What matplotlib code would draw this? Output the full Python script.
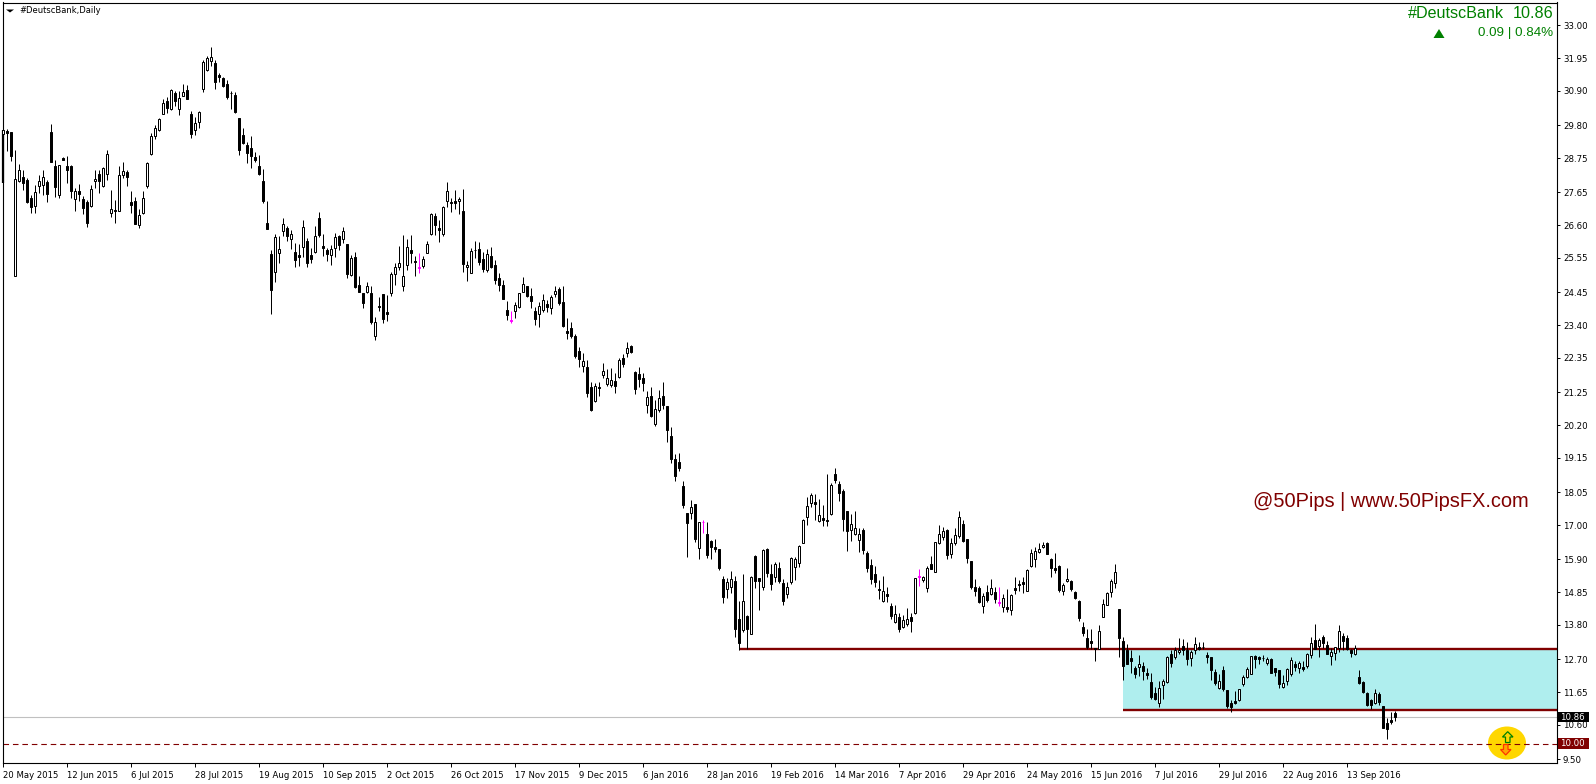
import matplotlib
matplotlib.use('Agg')
import matplotlib.pyplot as plt
from matplotlib.patches import Ellipse, Polygon, Rectangle
from matplotlib.transforms import Affine2D
import numpy as np

opens = [
29.53,29.62,29.58,24.97,28.03,28.14,28.05,27.46,27.23,27.87,
27.90,27.97,29.58,28.50,27.58,28.74,28.50,28.50,27.45,27.68,
27.44,27.33,27.23,28.01,28.23,27.87,28.23,27.00,27.08,27.07,
28.22,28.29,27.34,27.36,26.62,26.98,27.87,28.89,29.45,29.64,
30.17,30.58,30.31,30.82,30.33,30.75,30.92,30.16,29.66,29.89,
30.97,31.58,31.87,31.79,31.41,31.30,31.12,30.84,30.77,30.02,
29.48,29.17,29.07,28.78,28.50,28.00,26.67,25.68,25.11,25.72,
26.42,26.50,26.17,25.73,25.63,25.89,26.08,25.63,25.75,26.82,
25.92,25.81,25.63,25.86,26.24,26.15,25.99,25.00,25.57,24.67,
24.42,24.47,24.42,23.06,24.01,24.39,23.81,24.44,25.05,25.26,
24.66,25.34,25.81,25.45,25.25,25.30,25.72,26.33,26.89,26.50,
26.33,27.39,27.35,27.36,27.36,27.05,25.25,25.08,25.82,25.83,
25.52,25.18,25.61,25.33,24.90,24.69,23.89,23.55,23.84,23.99,
24.47,24.64,24.32,23.85,23.75,23.89,24.07,23.94,24.41,24.55,
24.13,23.21,23.30,23.05,22.57,22.10,22.06,21.42,20.98,21.42,
21.81,21.53,21.49,21.61,21.75,22.34,22.50,22.72,21.90,21.82,
21.71,20.83,21.12,20.25,20.69,21.13,20.81,19.85,19.11,19.02,
18.25,17.37,17.39,17.67,16.27,17.11,16.70,16.49,16.30,16.23,
15.27,14.96,15.02,15.20,13.98,13.63,14.09,13.52,16.00,15.29,
15.03,16.22,15.42,15.34,15.61,15.14,14.80,15.18,15.67,15.79,
16.43,17.27,17.72,17.74,17.14,17.21,17.16,17.36,18.63,18.31,
18.08,17.45,16.85,16.72,16.53,16.83,16.10,15.71,15.42,14.95,
14.56,14.78,14.41,13.91,14.04,13.72,13.84,14.04,14.19,15.37,
15.23,14.97,15.74,15.51,16.43,16.63,16.83,16.08,16.43,16.65,
17.02,16.54,15.84,15.00,14.97,14.42,14.84,14.80,14.87,14.52,
14.39,14.38,14.29,14.97,15.11,15.16,14.90,15.70,15.92,16.12,
16.29,16.42,15.90,15.61,15.68,14.90,15.20,15.20,14.84,14.56,
13.72,13.37,13.29,13.05,13.04,14.07,14.44,14.87,15.15,14.30,
13.28,13.00,12.74,12.42,12.46,12.49,12.26,11.97,11.61,11.31,
11.88,11.98,12.87,12.78,12.92,13.12,13.00,12.75,13.00,13.10,
13.10,12.83,12.76,12.28,11.79,12.35,11.71,11.29,11.35,11.40,
11.91,12.12,12.24,12.80,12.77,12.75,12.58,12.71,12.41,12.36,
11.81,12.01,12.24,12.54,12.42,12.45,12.50,12.84,13.31,13.14,
13.40,13.15,12.82,12.91,13.05,13.44,13.38,13.00,12.87,12.12,
11.97,11.62,11.40,11.31,11.59,11.19,10.65,10.76,10.97]

closes = [
29.64,29.56,28.83,28.07,28.36,27.96,27.34,27.19,27.65,28.00,
28.13,27.60,28.62,27.83,28.52,28.70,28.38,27.71,27.68,27.61,
27.16,26.68,27.75,28.07,28.03,28.43,28.87,27.11,27.04,28.20,
28.32,28.13,27.26,26.65,26.92,27.46,28.59,29.45,29.70,30.00,
30.50,30.36,30.92,30.59,30.66,30.85,30.64,29.53,29.86,30.21,
31.81,31.94,31.97,31.20,31.36,31.07,30.72,30.82,30.22,29.02,
29.23,28.92,28.82,28.69,28.24,27.37,26.48,24.52,26.21,25.83,
26.63,26.26,26.31,25.47,25.59,26.53,25.40,25.53,26.24,26.30,
25.88,25.69,25.83,26.21,25.98,26.40,25.05,25.54,24.63,24.47,
24.12,24.66,23.50,23.49,23.99,23.61,23.77,25.03,25.27,25.40,
24.96,25.89,25.72,25.43,25.23,25.51,25.99,26.95,26.62,26.46,
27.18,27.68,27.32,27.31,27.44,25.37,25.31,25.77,25.80,25.42,
25.20,25.67,25.26,24.86,24.69,24.25,23.72,23.53,24.03,24.42,
24.71,24.34,24.18,23.61,24.00,24.19,23.99,24.29,24.48,24.10,
23.38,23.16,23.06,22.42,22.33,22.24,21.24,20.68,21.44,21.40,
21.92,21.70,21.63,21.46,22.27,22.17,22.66,22.55,21.37,21.69,
21.56,21.10,20.50,20.70,21.06,20.85,20.05,19.12,18.58,18.84,
17.65,17.07,17.57,16.56,17.09,17.09,16.05,16.31,16.24,15.63,
14.71,15.17,15.26,13.68,13.23,14.56,13.67,15.34,15.22,15.22,
16.20,15.47,15.12,15.74,15.21,14.58,15.02,15.93,15.90,16.33,
17.15,17.60,17.95,17.68,17.33,17.17,17.14,18.28,18.43,18.04,
17.20,16.82,17.02,16.89,16.70,16.21,15.63,15.28,15.17,14.93,
14.88,14.74,14.10,14.14,13.68,13.95,13.98,13.94,15.29,15.35,
15.33,15.61,15.60,16.45,16.70,16.80,16.05,16.41,16.67,17.25,
16.50,15.94,15.02,14.90,14.54,14.72,14.60,14.97,14.64,14.50,
14.65,14.32,14.75,14.93,15.09,15.12,15.55,16.09,16.16,16.24,
16.37,16.08,15.62,15.56,14.93,15.07,15.26,14.94,14.67,14.03,
13.55,13.08,13.23,13.03,13.60,14.46,14.81,15.21,15.48,13.39,
12.50,12.56,12.66,12.24,12.55,12.34,12.21,11.50,11.42,11.77,
12.01,12.77,12.58,13.00,13.00,13.00,12.71,12.92,13.18,13.04,
13.09,12.76,12.37,11.93,11.99,11.75,11.21,11.16,11.30,11.74,
12.12,12.38,12.80,12.72,12.72,12.73,12.70,12.27,12.28,11.92,
11.93,12.39,12.67,12.45,12.57,12.39,12.86,13.21,13.04,13.31,
13.22,12.88,12.92,13.08,13.60,13.30,13.04,12.90,13.07,11.95,
11.65,11.24,11.24,11.61,11.34,10.50,10.48,10.69,10.86]

highs = [
29.70,29.67,29.59,29.01,28.56,28.37,28.10,27.57,27.89,28.21,
28.37,28.05,29.84,28.69,28.53,28.78,28.82,28.52,27.78,27.92,
27.53,27.41,27.89,28.37,28.37,28.47,29.01,27.73,27.41,28.50,
28.62,28.37,27.70,27.49,27.12,27.70,28.61,29.54,29.81,30.03,
30.63,30.72,30.95,30.90,30.90,31.12,31.09,30.24,30.05,30.24,
31.89,32.02,32.29,31.89,31.46,31.33,31.25,30.90,30.87,30.03,
29.71,29.25,29.46,28.94,28.85,28.40,27.37,25.80,26.31,26.25,
26.82,26.57,26.45,26.02,26.00,26.77,26.18,25.86,26.57,27.02,
26.32,25.86,25.96,26.34,26.29,26.53,26.00,25.65,25.74,24.96,
24.42,24.79,24.64,23.65,24.30,24.39,24.36,25.11,25.38,25.93,
26.29,26.15,26.29,25.61,25.70,25.61,26.09,27.00,26.98,26.77,
27.21,27.97,27.46,27.73,27.49,27.76,25.45,25.86,26.09,26.07,
25.75,25.84,25.89,25.49,25.08,24.84,24.17,23.85,24.13,24.42,
24.93,24.66,24.58,23.99,24.15,24.40,24.20,24.36,24.64,24.63,
24.65,23.62,23.49,23.12,22.69,22.50,22.28,21.59,21.54,21.59,
22.18,21.99,22.02,21.86,22.34,22.48,22.85,22.75,21.93,22.05,
21.86,21.29,21.42,21.00,21.32,21.57,20.81,20.13,19.27,19.31,
18.41,17.37,17.80,17.67,17.11,17.16,17.10,16.52,16.55,16.23,
15.37,15.29,15.53,15.37,14.57,15.42,14.12,15.37,16.03,15.29,
16.24,16.25,15.75,15.82,15.83,15.26,15.18,15.97,15.99,16.36,
17.18,17.89,18.04,17.98,17.82,17.64,18.63,18.36,18.82,18.42,
18.14,17.45,17.34,17.45,16.89,16.89,16.16,15.91,15.68,15.24,
15.37,15.03,14.49,14.44,14.17,14.12,14.33,14.17,15.30,15.59,
15.37,15.68,16.00,16.47,16.99,16.93,16.87,16.57,16.89,17.45,
17.16,16.54,15.86,15.27,15.04,14.82,15.08,15.27,15.00,15.00,
14.79,14.95,14.79,15.32,15.24,15.32,15.59,16.22,16.29,16.44,
16.47,16.45,15.95,16.10,15.72,15.15,15.62,15.24,14.90,14.60,
13.90,13.66,13.67,13.05,13.80,14.63,14.87,15.26,15.75,14.31,
13.41,13.19,13.00,12.49,12.84,12.62,12.43,12.26,11.82,12.01,
12.06,12.81,13.00,13.10,13.39,13.35,13.27,13.00,13.43,13.25,
13.26,12.93,12.76,12.39,12.22,12.50,11.72,11.40,11.69,11.74,
12.20,12.46,12.81,12.84,12.82,12.84,12.78,12.73,12.43,12.36,
12.20,12.41,12.76,12.66,12.65,12.65,12.89,13.41,13.83,13.37,
13.48,13.30,13.05,13.10,13.79,13.53,13.48,13.04,13.15,12.36,
12.01,11.66,11.42,11.74,11.66,11.21,10.81,11.01,11.03]

lows = [
29.52,28.99,28.67,24.97,27.98,27.73,27.32,27.00,27.00,27.62,
27.57,27.34,28.62,27.51,27.48,28.69,27.96,27.48,27.07,27.39,
26.97,26.55,27.19,27.80,27.64,27.83,28.05,26.87,26.68,27.07,
28.12,27.87,27.00,26.64,26.52,26.97,27.80,28.84,29.35,29.63,
30.17,30.18,30.29,30.42,30.14,30.75,30.64,29.40,29.49,29.72,
30.88,31.55,31.71,30.97,31.20,31.04,30.65,30.33,30.18,28.85,
29.20,28.60,28.44,28.62,28.22,27.32,26.48,23.76,24.79,25.39,
26.26,26.09,25.84,25.27,25.29,25.57,25.27,25.40,25.70,26.23,
25.61,25.46,25.33,25.59,25.81,26.02,24.92,24.97,24.60,24.47,
23.96,24.42,23.44,22.92,23.86,23.48,23.54,24.33,24.69,25.17,
24.50,25.17,25.38,24.97,25.07,25.23,25.72,26.27,26.29,26.06,
26.26,27.17,27.03,27.11,26.96,25.11,24.81,25.06,25.54,25.33,
25.09,25.11,25.22,24.71,24.50,24.23,23.56,23.47,23.64,23.96,
24.46,24.29,23.94,23.40,23.35,23.83,23.83,23.76,24.31,24.04,
23.33,22.97,23.00,22.34,22.05,21.91,21.11,20.66,20.95,21.13,
21.72,21.45,21.43,21.24,21.72,22.07,22.39,22.52,21.21,21.43,
21.30,20.60,20.47,20.18,20.63,20.72,19.67,19.00,18.42,18.74,
17.56,15.99,17.20,16.47,15.92,16.76,15.95,15.92,16.15,15.57,
14.51,14.67,14.81,13.42,13.00,13.59,13.03,13.52,14.98,14.28,
14.92,15.35,14.92,15.19,15.15,14.44,14.65,15.12,15.24,15.66,
16.43,17.01,17.59,17.16,17.11,16.97,16.97,17.32,18.36,17.78,
16.81,16.17,16.49,16.68,16.15,16.06,15.50,15.11,15.03,14.63,
14.54,14.55,13.99,13.85,13.59,13.71,13.78,13.59,14.15,15.06,
15.19,14.87,15.60,15.48,16.38,16.53,15.92,15.95,16.36,16.59,
16.47,15.79,14.95,14.73,14.50,14.18,14.54,14.76,14.51,14.41,
14.22,14.22,14.12,14.79,14.90,14.81,14.89,15.67,15.67,16.09,
16.25,16.06,15.35,15.47,14.87,14.77,15.18,14.89,14.64,13.94,
13.45,13.04,13.04,12.65,13.04,14.07,14.43,14.70,14.99,12.78,
12.04,12.55,12.25,12.11,12.17,12.04,12.06,11.42,11.40,11.18,
11.43,11.95,12.46,12.70,12.87,12.84,12.52,12.50,12.87,13.00,
13.03,12.57,12.04,11.88,11.74,11.70,11.13,11.02,11.27,11.38,
11.85,12.09,12.22,12.41,12.55,12.65,12.52,12.25,12.17,11.79,
11.79,11.88,12.17,12.34,12.27,12.33,12.41,12.73,13.02,12.78,
13.05,12.87,12.52,12.68,12.94,13.00,13.00,12.77,12.84,11.91,
11.61,11.20,11.10,11.27,11.24,10.50,10.15,10.63,10.74]

magenta_bars = [104, 127, 175, 229, 249]
prior_bar = (29.65, 27.96)   # bar cut off by the left edge

price_ticks = [33.00,31.95,30.90,29.80,28.75,27.65,26.60,25.55,24.45,23.40,22.35,
               21.25,20.20,19.15,18.05,17.00,15.90,14.85,13.80,12.70,11.65,10.60,9.50]
date_labels = ['20 May 2015','12 Jun 2015','6 Jul 2015','28 Jul 2015','19 Aug 2015',
               '10 Sep 2015','2 Oct 2015','26 Oct 2015','17 Nov 2015','9 Dec 2015',
               '6 Jan 2016','28 Jan 2016','19 Feb 2016','14 Mar 2016','7 Apr 2016',
               '29 Apr 2016','24 May 2016','15 Jun 2016','7 Jul 2016','29 Jul 2016',
               '22 Aug 2016','13 Sep 2016']
date_step = 16

zone_top = 13.03
zone_bottom = 11.08
zone_start = 280
top_line_start = 184
last_price = 10.86
target_price = 10.00

W, H = 1596, 784
fig = plt.figure(figsize=(W/100, H/100), dpi=100, facecolor='white')
ax = fig.add_axes([2.7/W, 1-763/H, 1554/W, 760.5/H])
ax.set_xlim(-0.15, 388.35)
ax.set_ylim(9.38, 33.73)
# pixel coordinates, for the bits that sit on the window and not on the data
px = Affine2D().scale(1/W, -1/H).translate(0, 1) + fig.transFigure

o = np.array(opens)
c = np.array(closes)
h = np.array(highs)
l = np.array(lows)
idx = np.arange(len(o))
colors = np.array(['black']*len(o), dtype=object)
colors[magenta_bars] = '#FF00FF'
up = c > o

ax.add_patch(Rectangle((zone_start, zone_bottom), 500, zone_top-zone_bottom, fc='#AFEEEE', ec='none', zorder=1))
ax.hlines(zone_top, top_line_start, 400, color='#800000', lw=1.7, zorder=1.5)
ax.hlines(zone_bottom, zone_start, 400, color='#800000', lw=1.7, zorder=1.5)
ax.axhline(last_price, color='#C0C0C0', lw=0.8, zorder=1.2)

ax.add_patch(Ellipse((1507, 743), 38, 33, fc='#FFD700', ec='none', transform=px, zorder=1.6))
ax.axhline(target_price, color='#800000', lw=0.8, ls=(0, (5, 3.5)), zorder=1.7)
ax.add_patch(Polygon([(1507.7,731.7),(1513,737),(1510,737),(1510,742.5),(1505.5,742.5),(1505.5,737),(1502.5,737)],
                     fc='none', ec='#008000', lw=0.9, transform=px, zorder=1.8))
ax.add_patch(Polygon([(1505.7,755),(1511,749.5),(1508,749.5),(1508,744.5),(1503.5,744.5),(1503.5,749.5),(1500.5,749.5)],
                     fc='#FFA500', ec='#FF3300', lw=0.9, transform=px, zorder=1.8))

wicks = ax.vlines(idx, l, h, colors=list(colors), lw=0.72, zorder=3)
wicks.set_snap(True)
bottoms = np.minimum(o, c)
heights = np.abs(c-o)
ax.bar(idx, heights, bottom=bottoms, width=0.5, color=['white' if u else k for u, k in zip(up, colors)],
       edgecolor=list(colors), linewidth=0.72, zorder=4)
ax.vlines(-0.12, prior_bar[1], prior_bar[0], color='black', lw=1.6, zorder=3, clip_on=False)

for s in ax.spines.values():
    s.set_linewidth(0.8)
    s.set_color('black')
ax.yaxis.tick_right()
ax.set_yticks(price_ticks)
ax.set_yticklabels(['%.2f' % p for p in price_ticks])
ax.tick_params(axis='y', length=2.5, width=0.7, pad=2, labelsize=6.2, labelcolor='black')
ax.set_xticks(np.arange(len(date_labels))*date_step)
ax.set_xticklabels(date_labels, ha='left')
ax.tick_params(axis='x', length=3, width=0.7, pad=2.5, labelsize=6.1)

# price boxes on the scale
yax = ax.get_yaxis_transform()
for val, bg in [(last_price, 'black'), (target_price, '#800000')]:
    ax.add_patch(Rectangle((1.0008, val-0.165), 0.0203, 0.33, fc=bg, ec='none', transform=yax, clip_on=False, zorder=6))
    ax.text(1.0022, val-0.01, '%.2f' % val, color='white', fontsize=6.2, va='center', ha='left', transform=yax, zorder=7)

ax.add_patch(Polygon([(6,9.5),(14,9.5),(10,12.5)], fc='black', ec='none', transform=px, zorder=6))
ax.text(19, 10.7, '#DeutscBank,Daily', fontsize=6, va='center', ha='left', transform=px, color='black')

arial = 'Liberation Sans'
ax.text(1504, 14, '#DeutscBank', fontsize=11.6, family=arial, color='#008000', ha='right', va='center', transform=px)
ax.text(1554, 14, '10.86', fontsize=11.6, family=arial, color='#008000', ha='right', va='center', transform=px)
ax.text(1553, 33, '0.09 | 0.84%', fontsize=9.6, family=arial, color='#008000', ha='right', va='center', transform=px)
ax.add_patch(Polygon([(1433.5,38),(1444.5,38),(1439,29)], fc='#008000', ec='none', transform=px, zorder=6))
ax.text(1253, 507, '@50Pips | www.50PipsFX.com', fontsize=14.4, family=arial, color='#800000',
        ha='left', va='baseline', transform=px)

fig.savefig('out.png', dpi=100)
